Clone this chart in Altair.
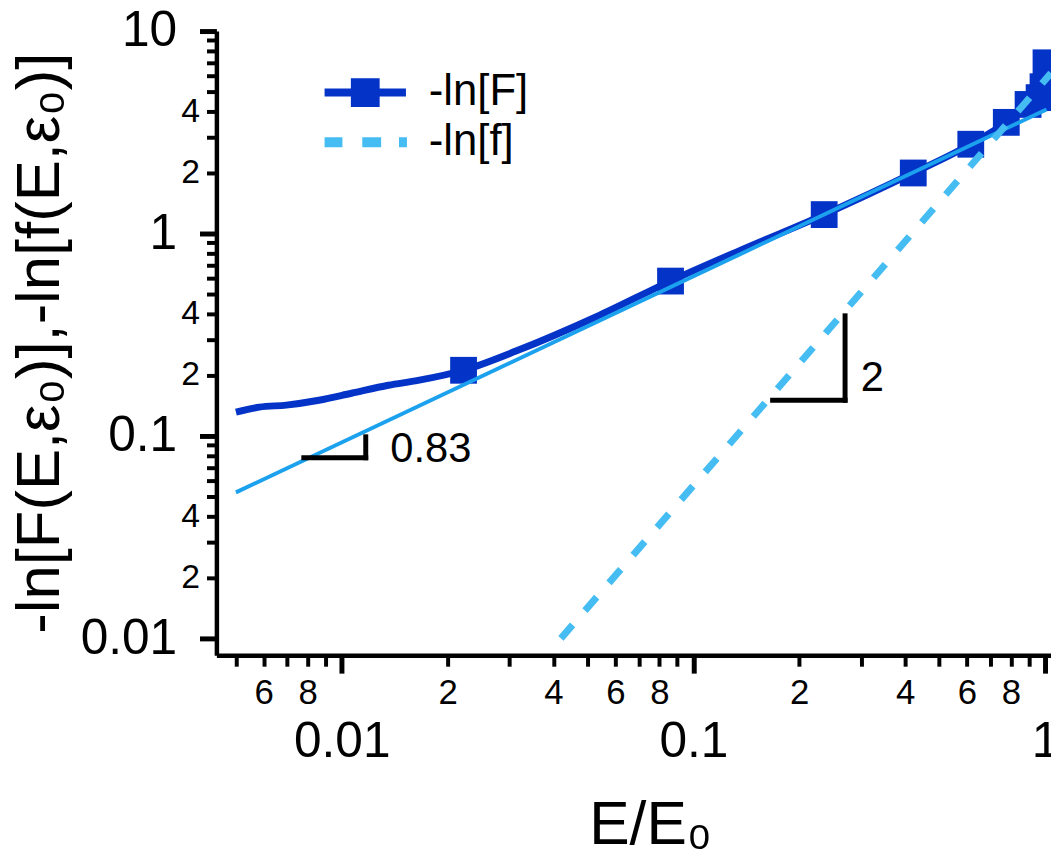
import json
import altair as alt
import pandas as pd

FONT = "Liberation Sans"
DARK = "#0433c8"
LIGHT = "#1ba1ee"
DASH = "#46bdf2"

# -ln[F] smooth curve (dark blue)
curve_x = [0.0050, 0.00583, 0.00695, 0.00861, 0.01066, 0.01356, 0.01648, 0.0222,
           0.03155, 0.0530, 0.0861, 0.140, 0.2355, 0.422, 0.615, 0.776, 0.895,
           0.962, 0.987, 1.0065]
curve_y = [0.131, 0.1387, 0.142, 0.150, 0.1625, 0.178, 0.188, 0.211,
           0.264, 0.388, 0.582, 0.844, 1.24, 1.99, 2.76, 3.54, 4.34,
           4.69, 5.31, 6.97]

# -ln[F] square markers
marker_x = [0.0222, 0.0861, 0.2355, 0.422, 0.615, 0.776, 0.895, 0.962, 0.987, 1.0065]
marker_y = [0.211, 0.582, 1.24, 1.99, 2.76, 3.54, 4.34, 4.69, 5.31, 6.97]

# power-law fit, slope 0.83 (light blue solid)
fit_x = [0.0050, 1.01]
fit_y = [0.0526, 4.1]

# -ln[f] (light blue dashed), slope 2
dash_x = [0.0420, 1.04]
dash_y = [0.0100, 6.2]

# slope triangles
tri_x1 = [0.0078, 0.0117, 0.168, 0.270]
tri_x2 = [0.0117, 0.0117, 0.270, 0.270]
tri_y1 = [0.078, 0.078, 0.150, 0.150]
tri_y2 = [0.078, 0.099, 0.150, 0.392]
tri_text = ["0.83", "2"]
tri_text_x = [0.01374, 0.299]
tri_text_y = [0.0863, 0.1935]

# legend
legend_names = ["-ln[F]", "-ln[f]"]
legend_colors = [DARK, DASH]
legend_paths = [
    "M-2.05,-0.2H2.05V0.2H-2.05Z M-0.725,-0.725H0.725V0.725H-0.725Z",
    "M-2.05,-0.25H-1.15V0.25H-2.05Z M-0.15,-0.25H0.8V0.25H-0.15Z M1.7,-0.25H2.1V0.25H1.7Z",
]

# axis ticks
x_tick_values = [0.005, 0.006, 0.007, 0.008, 0.009, 0.01, 0.02, 0.03, 0.04, 0.05, 0.06,
                 0.07, 0.08, 0.09, 0.1, 0.2, 0.3, 0.4, 0.5, 0.6, 0.7, 0.8, 0.9, 1]
x_tick_labels = ["", "6", "", "8", "", "0.01", "2", "", "4", "", "6", "", "8", "",
                 "0.1", "2", "", "4", "", "6", "", "8", "", "1"]
x_major = [0.01, 0.1, 1]
y_tick_values = [0.01, 0.02, 0.03, 0.04, 0.05, 0.06, 0.07, 0.08, 0.09,
                 0.1, 0.2, 0.3, 0.4, 0.5, 0.6, 0.7, 0.8, 0.9,
                 1, 2, 3, 4, 5, 6, 7, 8, 9, 10]
y_tick_labels = ["0.01", "2", "", "4", "", "", "", "", "",
                 "0.1", "2", "", "4", "", "", "", "", "",
                 "1", "2", "", "4", "", "", "", "", "", "10"]
y_major = [0.01, 0.1, 1, 10]


def label_expr(values, labels):
    return f"{json.dumps(labels)}[indexof({json.dumps(values)}, datum.value)]"


def test_major(majors):
    return f"indexof({json.dumps(majors)}, datum.value) >= 0"


def cond_expr(majors, major_val, minor_val):
    return alt.ExprRef(expr=f"{test_major(majors)} ? {major_val} : {minor_val}")


def cond(majors, major_val, minor_val):
    return {"condition": {"test": test_major(majors), "value": major_val},
            "value": minor_val}


x_axis = alt.Axis(
    values=x_tick_values, labelExpr=label_expr(x_tick_values, x_tick_labels),
    labelFont=FONT, labelColor="black", labelOverlap=False, labelFlush=False, labelBound=False,
    labelFontSize=cond_expr(x_major, 50, 35), labelPadding=cond(x_major, 44, 10),
    tickSize=cond(x_major, 18, 11), tickWidth=cond(x_major, 5, 4), tickColor="black",
    domainColor="black", domainWidth=4.5, grid=False,
    title="E/E₀", titleFont=FONT, titleFontSize=61, titleFontWeight="normal", titleColor="black",
    titleX=437, titleY=190, titleAlign="center", titleBaseline="alphabetic",
)
y_axis = alt.Axis(
    values=y_tick_values, labelExpr=label_expr(y_tick_values, y_tick_labels),
    labelFont=FONT, labelColor="black", labelOverlap=False, labelFlush=False, labelBound=False,
    labelFontSize=cond_expr(y_major, 50, 34), labelPadding=cond(y_major, 23, 7),
    tickSize=cond(y_major, 17, 10), tickWidth=cond(y_major, 5, 4), tickColor="black",
    domainColor="black", domainWidth=4.5, grid=False,
    title="-ln[F(E,ε₀)],-ln[f(E,ε₀)]", titleFont=FONT, titleFontSize=62,
    titleFontWeight="normal", titleColor="black",
    titleX=-159, titleY=314, titleAlign="center", titleBaseline="alphabetic",
)

x_scale = alt.Scale(type="log", domain=[0.0044, 1.04], nice=False)
y_scale = alt.Scale(type="log", domain=[0.00825, 10], nice=False)

X = lambda f: alt.X(f, type="quantitative", scale=x_scale, axis=x_axis)
Y = lambda f: alt.Y(f, type="quantitative", scale=y_scale, axis=y_axis)

curve_df = pd.DataFrame({"x": curve_x, "y": curve_y})
marker_df = pd.DataFrame({"x": marker_x, "y": marker_y})
fit_df = pd.DataFrame({"x": fit_x, "y": fit_y})
dash_df = pd.DataFrame({"x": dash_x, "y": dash_y})
tri_df = pd.DataFrame({"x": tri_x1, "x2": tri_x2, "y": tri_y1, "y2": tri_y2})
txt_df = pd.DataFrame({"x": tri_text_x, "y": tri_text_y, "t": tri_text})
leg_df = pd.DataFrame({"series": legend_names})

F_line = alt.Chart(curve_df).mark_line(color=DARK, strokeWidth=7, interpolate="monotone").encode(
    x=X("x"), y=Y("y"))
F_pts = alt.Chart(marker_df).mark_square(color=DARK, size=729, opacity=1, filled=True).encode(
    x=X("x"), y=Y("y"))
fit_line = alt.Chart(fit_df).mark_line(color=LIGHT, strokeWidth=4).encode(x=X("x"), y=Y("y"))
dash_line = alt.Chart(dash_df).mark_line(color=DASH, strokeWidth=7, strokeDash=[18, 19]).encode(
    x=X("x"), y=Y("y"))
tri = alt.Chart(tri_df).mark_rule(color="black", strokeWidth=5, strokeCap="square").encode(
    x=X("x"), x2="x2", y=Y("y"), y2="y2")
txt = alt.Chart(txt_df).mark_text(font=FONT, fontSize=42, align="left", baseline="middle",
                                  color="black").encode(x=X("x"), y=Y("y"), text="t")

leg = alt.Legend(title=None, orient="none", legendX=128, legendY=40, symbolSize=1600,
                 symbolStrokeWidth=0, symbolOpacity=1, labelFont=FONT, labelFontSize=44,
                 labelColor="black", labelOffset=42, rowPadding=6, padding=0, symbolOffset=0)
legend_layer = alt.Chart(leg_df).transform_filter("false").mark_point(
    filled=True, opacity=1, strokeWidth=0).encode(
    color=alt.Color("series:N", scale=alt.Scale(domain=legend_names, range=legend_colors), legend=leg),
    shape=alt.Shape("series:N", scale=alt.Scale(domain=legend_names, range=legend_paths), legend=leg),
)

chart = alt.layer(F_line, F_pts, fit_line, dash_line, tri, txt, legend_layer).properties(
    width=841, height=629,
    padding={"left": 210, "top": 20, "right": 0, "bottom": 195},
    autosize=alt.AutoSizeParams(type="none"),
    background="white",
).configure_view(strokeWidth=0)

chart.save("out.html", embed_options={"renderer": "svg", "actions": False})
